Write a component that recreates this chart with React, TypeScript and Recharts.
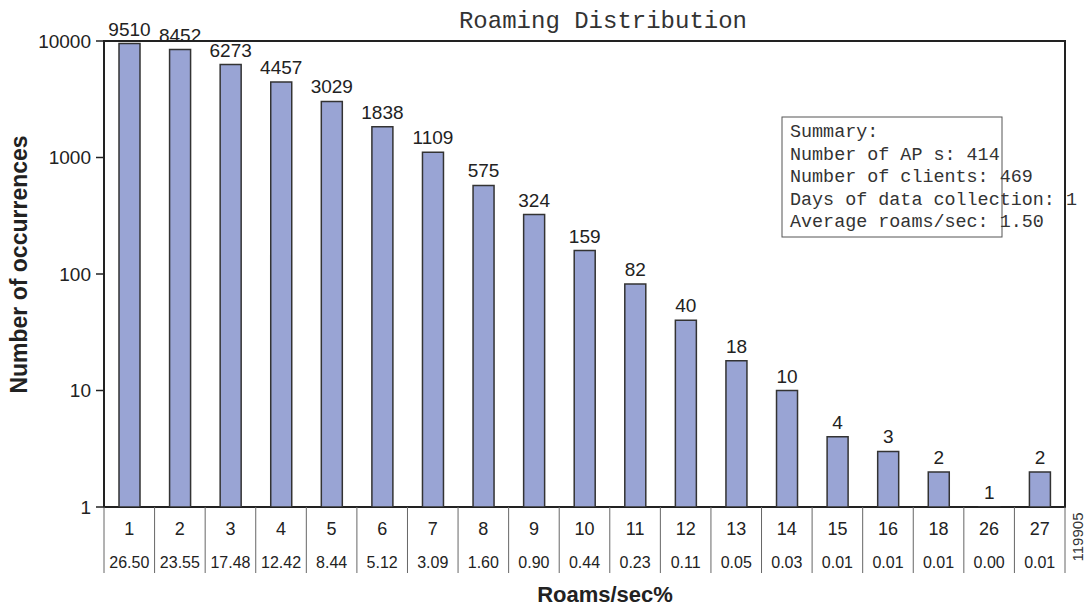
import { Bar, BarChart, LabelList, ReferenceArea, XAxis, YAxis } from 'recharts';

const roamsPerSec = ['1', '2', '3', '4', '5', '6', '7', '8', '9', '10', '11', '12', '13', '14', '15', '16', '18', '26', '27'];
const occurrences = [9510, 8452, 6273, 4457, 3029, 1838, 1109, 575, 324, 159, 82, 40, 18, 10, 4, 3, 2, 1, 2];
const sharePct = ['26.50', '23.55', '17.48', '12.42', '8.44', '5.12', '3.09', '1.60', '0.90', '0.44', '0.23', '0.11', '0.05', '0.03', '0.01', '0.01', '0.01', '0.00', '0.01'];
const yTicks = [1, 10, 100, 1000, 10000];
const summaryLines = [
  'Summary:',
  'Number of AP s: 414',
  'Number of clients: 469',
  'Days of data collection: 1',
  'Average roams/sec: 1.50',
];

const rows = roamsPerSec.map((r, i) => ({ r, count: occurrences[i], pct: sharePct[i] }));

const SANS = '"Liberation Sans", Arial, Helvetica, sans-serif';
const MONO = '"Liberation Mono", "Courier New", monospace';

const TableTick = (props: any) => {
  const { x, y, payload } = props;
  const i = payload.index;
  const half = payload.offset ?? 25;
  return (
    <g>
      {i === 0 && <line x1={x - half} x2={x - half} y1={y} y2={y + 66} stroke="#666" strokeWidth={1} />}
      <line x1={x + half} x2={x + half} y1={y} y2={y + 66} stroke="#666" strokeWidth={1} />
      <text x={x} y={y + 28} textAnchor="middle" fontSize={18} fontFamily={SANS} fill="#222">
        {payload.value}
      </text>
      <text x={x} y={y + 61} textAnchor="middle" fontSize={16} fontFamily={SANS} fill="#222">
        {sharePct[i]}
      </text>
    </g>
  );
};

export default function App() {
  return (
    <div style={{ position: 'absolute', left: 0, top: 0, width: 1089, height: 609, background: '#fff' }}>
      <BarChart
        width={1089}
        height={609}
        data={rows}
        margin={{ top: 41, right: 24, left: 0, bottom: 0 }}
      >
        <XAxis
          dataKey="r"
          height={102}
          axisLine={false}
          tickLine={false}
          tickSize={0}
          tickMargin={0}
          interval={0}
          tick={<TableTick />}
        />
        <YAxis
          scale="log"
          domain={[1, 10000]}
          allowDataOverflow
          ticks={yTicks}
          width={104}
          tickSize={8}
          tickMargin={5}
          axisLine={{ stroke: '#222', strokeWidth: 2 }}
          tickLine={{ stroke: '#222', strokeWidth: 1.5 }}
          tick={{ fill: '#222', fontSize: 19, fontFamily: SANS }}
        />
        <Bar
          dataKey="count"
          fill="#99A4D4"
          stroke="#333"
          strokeWidth={1.5}
          barSize={21}
          minPointSize={0.1}
          isAnimationActive={false}
        >
          <LabelList dataKey="count" position="top" offset={8} fill="#222" fontSize={19} fontFamily={SANS} />
        </Bar>
        <ReferenceArea y1={1} y2={10000} fill="none" stroke="#222" strokeWidth={2} ifOverflow="visible" />
      </BarChart>
      <svg
        width={1089}
        height={609}
        style={{ position: 'absolute', left: 0, top: 0, pointerEvents: 'none' }}
      >
        <text x={603} y={28} textAnchor="middle" fontSize={24} fontFamily={MONO} fill="#333">
          Roaming Distribution
        </text>
        <text
          transform="translate(27, 264.5) rotate(-90)"
          textAnchor="middle"
          fontSize={23}
          fontWeight="bold"
          fontFamily={SANS}
          fill="#222"
        >
          Number of occurrences
        </text>
        <text x={605} y={602} textAnchor="middle" fontSize={22} fontWeight="bold" fontFamily={SANS} fill="#222">
          Roams/sec%
        </text>
        <text
          transform="translate(1077, 537) rotate(-90)"
          textAnchor="middle"
          dominantBaseline="central"
          fontSize={15}
          fontFamily={SANS}
          fill="#333"
        >
          119905
        </text>
        <rect x={782} y={117} width={220} height={120} fill="#fff" stroke="#555" strokeWidth={1} />
        {summaryLines.map((line, i) => (
          <text key={i} x={790} y={137 + i * 22.5} fontSize={18.4} fontFamily={MONO} fill="#333">
            {line}
          </text>
        ))}
      </svg>
    </div>
  );
}
